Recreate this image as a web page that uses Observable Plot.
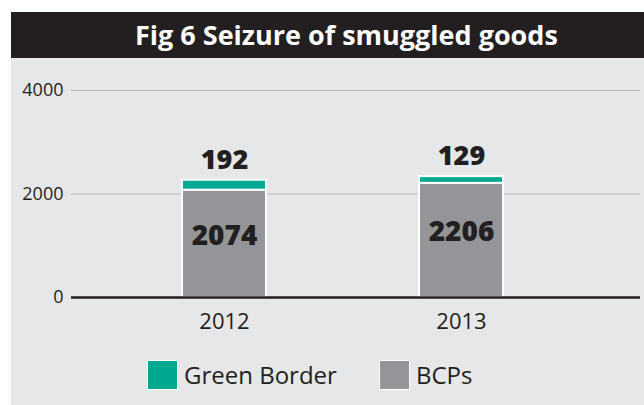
<!DOCTYPE html>
<html><head><meta charset="utf-8">
<script src="https://cdn.jsdelivr.net/npm/d3@7"></script>
<script src="https://cdn.jsdelivr.net/npm/@observablehq/plot@0.6"></script>
<style>
body{margin:0;background:#fff;}
#page{position:relative;width:644px;height:405px;background:#fff;overflow:hidden;font-family:"Open Sans","Noto Sans",sans-serif;}
#title{position:absolute;left:11px;top:12px;width:633px;height:46px;background:#231f20;color:#fff;font-weight:700;font-size:27px;line-height:46px;white-space:nowrap;}
#title span{position:absolute;left:124px;}
#panel{position:absolute;left:11px;top:58px;width:633px;height:347px;background:#e6e7e8;}
#chart{position:absolute;left:0;top:0;}
.leg{position:absolute;top:300px;display:flex;align-items:center;font-size:24px;color:#231f20;}
.sw{width:29px;height:28px;border:1px solid #fff;margin-right:6px;}
</style></head>
<body>
<div id="page">
  <div id="title"><span>Fig 6 Seizure of smuggled goods</span></div>
  <div id="panel">
    <div id="chart"></div>
    <div id="legend"></div>
  </div>
</div>
<script>
const years = ["2012", "2013"];
const bcpValues = [2074, 2206];
const greenValues = [192, 129];
const seriesNames = ["Green Border", "BCPs"];
const seriesColors = ["#00a88f", "#939598"];
const yTicks = [0, 2000, 4000];

const rows = years.flatMap((yr, i) => [
  {year: yr, series: "BCPs", value: bcpValues[i]},
  {year: yr, series: "Green Border", value: greenValues[i]}
]);

const chart = Plot.plot({
  width: 633,
  height: 280,
  marginLeft: 60,
  marginRight: 4,
  marginTop: 32,
  marginBottom: 41,
  style: {background: "transparent", fontFamily: "'Open Sans','Noto Sans',sans-serif", fontSize: "18px", color: "#231f20"},
  x: {domain: years, range: [94.5, 568.5], paddingInner: 0.646, paddingOuter: 0.323, label: null},
  y: {domain: [0, 4000], ticks: yTicks, label: null},
  color: {domain: seriesNames, range: seriesColors},
  marks: [
    Plot.gridY(yTicks.filter(t => t > 0), {stroke: "#b5b6b8", strokeOpacity: 1, strokeWidth: 1.2}),
    Plot.axisY({ticks: yTicks, tickSize: 0, tickPadding: 8, fontSize: 18, tickFormat: d => String(d), label: null}),
    Plot.axisX({tickSize: 0, tickPadding: 16, fontSize: 22, label: null}),
    Plot.barY(rows, {x: "year", y: "value", fill: "series", stroke: "white", strokeWidth: 2}),
    Plot.ruleY([0], {stroke: "#231f20", strokeWidth: 2.5}),
    Plot.text(years, {x: d => d, y: (d, i) => bcpValues[i] / 2 + 160, text: (d, i) => String(bcpValues[i]), fontSize: 28, fontWeight: 800, fill: "#231f20"}),
    Plot.text(years, {x: d => d, y: (d, i) => bcpValues[i] + greenValues[i], dy: -20, text: (d, i) => String(greenValues[i]), fontSize: 27, fontWeight: 800, fill: "#231f20"})
  ]
});
document.getElementById("chart").appendChild(chart);

const legend = document.getElementById("legend");
const legX = [136, 368];
seriesNames.forEach((name, i) => {
  const item = document.createElement("div");
  item.className = "leg";
  item.style.left = legX[i] + "px";
  const sw = document.createElement("div");
  sw.className = "sw";
  sw.style.background = seriesColors[i];
  item.appendChild(sw);
  item.appendChild(document.createTextNode(name));
  legend.appendChild(item);
});
</script>
</body></html>
